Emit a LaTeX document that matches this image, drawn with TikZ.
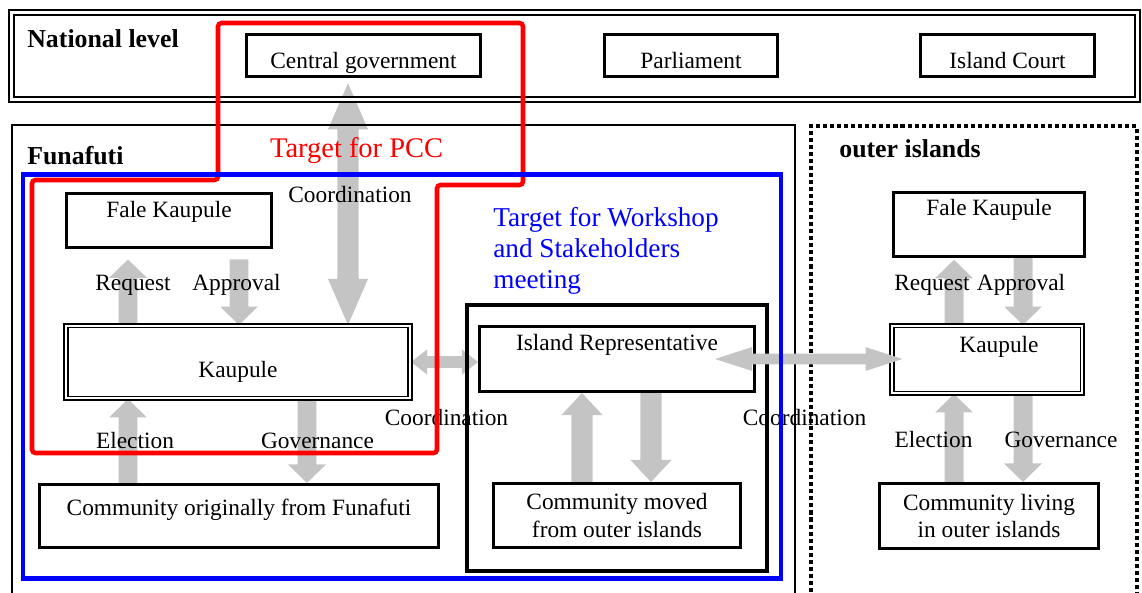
\documentclass[tikz,border=0pt]{standalone}
\usepackage{fontspec}
\setmainfont{Liberation Serif}
\usepackage{tikz}
\usetikzlibrary{
    positioning,
    calc,
    backgrounds,
}
\definecolor{arrowgray}{RGB}{196,196,196}
\definecolor{pccred}{RGB}{255,0,0}
\definecolor{wsblue}{RGB}{0,0,255}
\newcommand{\boxfont}{\fontsize{13.3}{15.4}\selectfont}
\newcommand{\titlefont}{\fontsize{14.7}{17}\selectfont\bfseries}
\newcommand{\targetfont}{\fontsize{16.2}{18}\selectfont}
\newcommand{\wsfont}{\fontsize{15.5}{17.9}\selectfont}
\tikzset{
    % Block arrow parameters
    ashaft/.store in=\ashaftw,
    ahead/.store in=\aheadw,
    alen/.store in=\alenv,
    agap/.store in=\agapv,
    atail/.store in=\atailv,
    ashaft=5pt, ahead=10pt, alen=10pt, agap=0pt, atail=0pt,
    % Single block arrow
    blockarrow/.style={fill=arrowgray, to path={
        let \p1=(\tikztostart), \p2=(\tikztotarget),
            \p3=($(\p2)!\agapv!(\p1)$), \p4=($(\p3)!\alenv!(\p1)$),
            \p5=($(\p1)!\atailv!(\p2)$) in
        ($(\p5)!\ashaftw!90:(\p3)$) -- ($(\p4)!\ashaftw!90:(\p3)$)
        -- ($(\p4)!\aheadw!90:(\p3)$) -- (\p3)
        -- ($(\p4)!\aheadw!-90:(\p3)$) -- ($(\p4)!\ashaftw!-90:(\p3)$)
        -- ($(\p5)!\ashaftw!-90:(\p3)$) -- cycle}},
    % Double block arrow
    dblarrow/.style={fill=arrowgray, to path={
        let \p1=(\tikztostart), \p2=(\tikztotarget),
            \p3=($(\p2)!\agapv!(\p1)$), \p4=($(\p3)!\alenv!(\p1)$),
            \p5=($(\p1)!\atailv!(\p2)$), \p6=($(\p5)!\alenv!(\p2)$) in
        (\p5) -- ($(\p6)!\aheadw!90:(\p3)$) -- ($(\p6)!\ashaftw!90:(\p3)$)
        -- ($(\p4)!\ashaftw!90:(\p3)$) -- ($(\p4)!\aheadw!90:(\p3)$) -- (\p3)
        -- ($(\p4)!\aheadw!-90:(\p3)$) -- ($(\p4)!\ashaftw!-90:(\p3)$)
        -- ($(\p6)!\ashaftw!-90:(\p3)$) -- ($(\p6)!\aheadw!-90:(\p3)$) -- cycle}},
    smallarrow/.style={blockarrow, ashaft=5.4pt, ahead=10.8pt, alen=10.5pt},
    irarrow/.style={blockarrow, ashaft=6pt, ahead=11.7pt, alen=12.5pt},
}

\begin{document}
\begin{tikzpicture}[
    x=0.02cm, y=-0.02cm,
    every node/.style={font=\boxfont},
    box/.style={draw, line width=1.5pt, inner sep=0pt},
    dbox/.style={draw, line width=0.9pt, double, double distance=1.3pt, inner sep=0pt},
    tpos/.style 2 args={text height=#1, text depth=#2},
    levelframe/.style={draw, line width=1.1pt, inner sep=0pt},
    dotframe/.style={draw, line width=2.3pt, dash pattern=on 2.3pt off 1.7pt, inner sep=0pt},
    lbl/.style={anchor=base, inner sep=0pt},
    title/.style={anchor=base west, inner sep=0pt, font=\titlefont},
    pccline/.style={draw=pccred, line width=2.6pt, rounded corners=2pt},
    wsline/.style={draw=wsblue, line width=2.6pt},
]
    \useasboundingbox (0,0) rectangle (1142,592);
    \clip (0,0) rectangle (1142,592);

    % Frames
    \node[dbox, line width=1.1pt, double distance=1.7pt, minimum width=22.52cm, minimum height=1.74cm] (natl) at (574.5,56) {};
    \node[levelframe, minimum width=15.66cm, minimum height=10.5cm] (funa) at (403.5,387.5) {};
    \node[dotframe, minimum width=6.52cm, minimum height=10.48cm] (outer) at (974,388) {};
    \node[draw, line width=2.3pt, inner sep=0pt, minimum width=6cm, minimum height=5.32cm] (irgroup) at (617,438) {};

    % Titles
    \node[title] (natlTitle) at (27,47) {National level};
    \node[title] (funaTitle) at (27,164) {Funafuti};
    \node[title] (outerTitle) at (839,157) {outer islands};

    % National level
    \node[box, tpos={14.5pt}{0pt}, minimum width=4.69cm, minimum height=0.85cm] (cgov) at (363.5,55.5) {Central government};
    \node[box, tpos={14.5pt}{0pt}, minimum width=3.47cm, minimum height=0.85cm] (parl) at (691,55.5) {Parliament};
    \node[box, tpos={14.5pt}{0pt}, minimum width=3.49cm, minimum height=0.85cm] (icourt) at (1007.5,55.5) {Island Court};

    % Funafuti
    \node[box, tpos={9pt}{12.2pt}, minimum width=4.11cm, minimum height=1.09cm] (faleF) at (169,220.5) {Fale Kaupule};
    \node[dbox, tpos={17.9pt}{0pt}, minimum width=6.89cm, minimum height=1.45cm] (kaupF) at (238,362) {Kaupule};
    \node[box, tpos={9pt}{9.8pt}, minimum width=7.99cm, minimum height=1.27cm] (commF) at (239,516) {Community originally from Funafuti};
    \node[box, tpos={9pt}{19pt}, minimum width=5.51cm, minimum height=1.31cm] (irep) at (617,359) {Island Representative};
    \node[box, align=center, minimum width=4.95cm, minimum height=1.29cm] (commM) at (617,515.5) {Community moved\\from outer islands};

    % outer islands
    \node[box, tpos={9pt}{19.6pt}, minimum width=3.83cm, minimum height=1.29cm] (faleO) at (989,224.5) {Fale Kaupule};
    \node[dbox, tpos={9pt}{16.6pt}, minimum width=3.81cm, minimum height=1.35cm] (kaupO) at (987,359.5) {\hspace*{0.48cm}Kaupule};
    \node[box, align=center, minimum width=4.39cm, minimum height=1.31cm] (commO) at (989,516) {Community living\\in outer islands};

    \begin{scope}[on background layer]
        % Arrows
        \path[dblarrow, ashaft=6pt, ahead=11.4pt, alen=26.2pt, atail=3pt] (cgov.south -| 348,0) to (kaupF.north -| 348,0);
        \path[smallarrow, agap=5.9pt] (kaupF.north -| 128,0) to (faleF.south -| 128,0);
        \path[smallarrow, atail=5.9pt] (faleF.south -| 239,0) to (kaupF.north -| 239,0);
        \path[smallarrow] (commF.north -| 128,0) to (kaupF.south -| 128,0);
        \path[smallarrow] (kaupF.south -| 307,0) to (commF.north -| 307,0);
        \path[dblarrow, ashaft=3.4pt, ahead=7.1pt, alen=9.1pt] (kaupF.east) to (kaupF.east -| irep.west);
        \path[irarrow] (commM.north -| 582,0) to (irep.south -| 582,0);
        \path[irarrow] (irep.south -| 651,0) to (commM.north -| 651,0);
        \path[smallarrow, agap=1pt] (kaupO.north -| 954,0) to (faleO.south -| 954,0);
        \path[smallarrow] (faleO.south -| 1023,0) to (kaupO.north -| 1023,0);
        \path[smallarrow] (commO.north -| 954,0) to (kaupO.south -| 954,0);
        \path[smallarrow] (kaupO.south -| 1023,0) to (commO.north -| 1023,0);

        % Labels
        \node[lbl] (lCoordTop) at (350,202) {Coordination};
        \node[lbl] (lReqF) at (133,290) {Request};
        \node[lbl] (lApprF) at (236.5,290) {Approval};
        \node[lbl] (lElecF) at (135,448) {Election};
        \node[lbl] (lGovF) at (317.5,448) {Governance};
        \node[lbl] (lCoordMid) at (446.5,425) {Coordination};
        \node[lbl] (lCoordRight) at (804.5,425) {Coordination};
        \node[lbl] (lReqO) at (932,290) {Request};
        \node[lbl] (lApprO) at (1021,290) {Approval};
        \node[lbl] (lElecO) at (933.5,447) {Election};
        \node[lbl] (lGovO) at (1061,447) {Governance};
    \end{scope}

    \path[dblarrow, ashaft=3.1pt, ahead=6.8pt, alen=21pt, atail=-23.3pt, agap=-6.5pt] (irep.east) to (irep.east -| kaupO.west);

    % Targets
    \draw[pccline] (218,23) -- (523,23) -- (523,185) -- (437,185) -- (437,453) -- (32,453) -- (32,180) -- (218,180) -- cycle;
    \draw[wsline] (23,174.5) rectangle (781,578.5);
    \node[anchor=base, inner sep=0pt, text=pccred, font=\targetfont] (pccLbl) at (356.6,157) {Target for PCC};
    \node[anchor=north west, inner sep=0pt, align=left, text=wsblue, font=\wsfont] (wsLbl) at (493,206.5) {Target for Workshop\\and Stakeholders\\meeting};
\end{tikzpicture}
\end{document}
